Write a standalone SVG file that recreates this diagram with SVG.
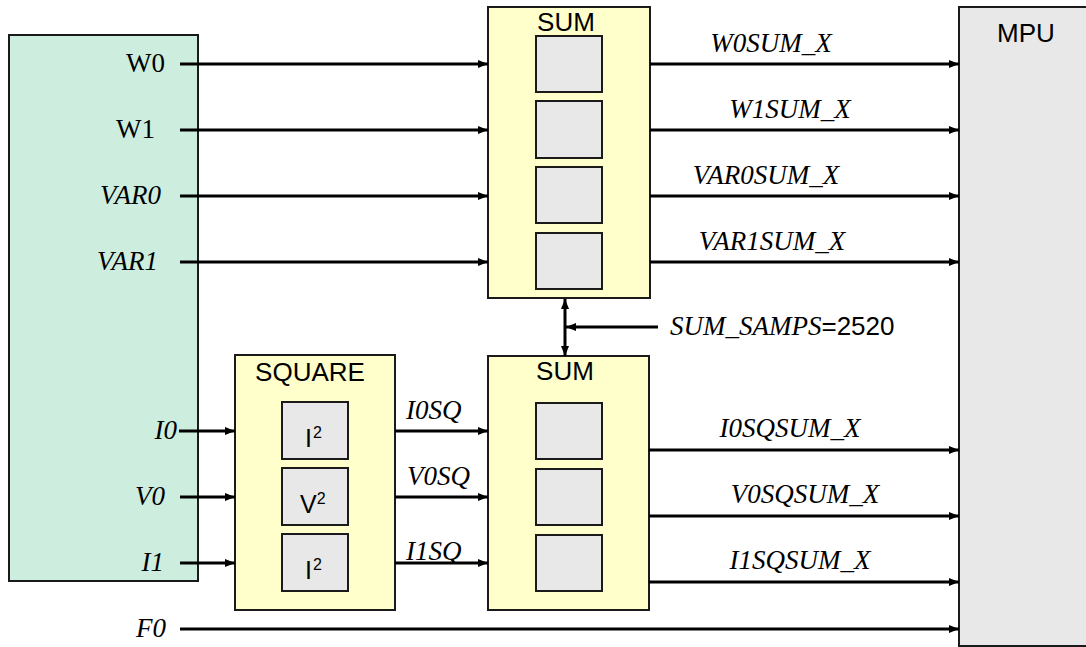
<svg xmlns="http://www.w3.org/2000/svg" width="1086" height="647" viewBox="0 0 1086 647">
<style>
.box{stroke:#1a1a1a;stroke-width:2}
.green{fill:#cdeede}
.yellow{fill:#ffffcc}
.gray{fill:#e8e8e8}
.ln{stroke:#000;stroke-width:3;fill:none}
.arr{marker-end:url(#ah)}
.ser{font-family:"Liberation Sans",Arial,sans-serif;font-size:27px}
.ser{font-family:"Liberation Serif",serif}
.it{font-style:italic}
.sans{font-family:"Liberation Sans",Arial,sans-serif;font-size:26px}
.sq{font-family:"Liberation Sans",Arial,sans-serif;font-size:25px}
.sup{font-size:16px}
</style>
<defs>
<marker id="ah" markerWidth="10" markerHeight="8" refX="10" refY="4" orient="auto" markerUnits="userSpaceOnUse">
<path d="M0,0 L10,4 L0,8 Z" fill="#000"/>
</marker>
<marker id="ahs" markerWidth="10" markerHeight="8" refX="10" refY="4" orient="auto-start-reverse" markerUnits="userSpaceOnUse">
<path d="M0,0 L10,4 L0,8 Z" fill="#000"/>
</marker>
</defs>
<rect width="1086" height="647" fill="#fff"/>

<g id="source">
<rect class="box green" x="9" y="35" width="189" height="546"/>
<text class="ser" x="165" y="72" text-anchor="end">W0</text>
<text class="ser" x="155" y="138" text-anchor="end">W1</text>
<text class="ser it" x="161" y="204" text-anchor="end">VAR0</text>
<text class="ser it" x="158" y="270" text-anchor="end">VAR1</text>
<text class="ser it" x="177" y="439" text-anchor="end">I0</text>
<text class="ser it" x="165" y="505" text-anchor="end">V0</text>
<text class="ser it" x="164" y="571" text-anchor="end">I1</text>
</g>
<text class="ser it" x="166" y="637" text-anchor="end">F0</text>

<g id="sum_top">
<rect class="box yellow" x="488" y="7" width="162" height="291"/>
<text class="sans" x="566" y="31" text-anchor="middle">SUM</text>
<rect class="box gray" x="536" y="36" width="66" height="56"/>
<rect class="box gray" x="536" y="101" width="66" height="57"/>
<rect class="box gray" x="536" y="167" width="66" height="56"/>
<rect class="box gray" x="536" y="233" width="66" height="56"/>
</g>

<g id="square">
<rect class="box yellow" x="235" y="355" width="160" height="255"/>
<text class="sans" x="310" y="381" text-anchor="middle">SQUARE</text>
<rect class="box gray" x="282" y="402" width="66" height="57"/>
<rect class="box gray" x="282" y="468" width="66" height="57"/>
<rect class="box gray" x="282" y="534" width="66" height="57"/>
<text class="sq" x="305" y="447">I<tspan class="sup" dx="1" dy="-9">2</tspan></text>
<text class="sq" x="300" y="513">V<tspan class="sup" dy="-9">2</tspan></text>
<text class="sq" x="305" y="579">I<tspan class="sup" dx="1" dy="-9">2</tspan></text>
</g>

<g id="sum_bottom">
<rect class="box yellow" x="488" y="356" width="161" height="254"/>
<text class="sans" x="565" y="380" text-anchor="middle">SUM</text>
<rect class="box gray" x="536" y="403" width="66" height="56"/>
<rect class="box gray" x="536" y="469" width="66" height="56"/>
<rect class="box gray" x="536" y="535" width="66" height="56"/>
</g>

<g id="mpu">
<rect class="box gray" x="959" y="7" width="140" height="639"/>
<text class="sans" x="1026" y="42" text-anchor="middle">MPU</text>
</g>

<g id="connectors">
<line class="ln arr" x1="180" y1="64" x2="488" y2="64"/>
<line class="ln arr" x1="180" y1="130" x2="488" y2="130"/>
<line class="ln arr" x1="180" y1="196" x2="488" y2="196"/>
<line class="ln arr" x1="180" y1="262" x2="488" y2="262"/>
<line class="ln arr" x1="650" y1="64" x2="959" y2="64"/>
<line class="ln arr" x1="650" y1="130" x2="959" y2="130"/>
<line class="ln arr" x1="650" y1="196" x2="959" y2="196"/>
<line class="ln arr" x1="650" y1="262" x2="959" y2="262"/>
<line class="ln arr" x1="179" y1="431" x2="235" y2="431"/>
<line class="ln arr" x1="180" y1="497" x2="235" y2="497"/>
<line class="ln arr" x1="180" y1="563" x2="235" y2="563"/>
<line class="ln arr" x1="395" y1="431" x2="488" y2="431"/>
<line class="ln arr" x1="395" y1="497" x2="488" y2="497"/>
<line class="ln arr" x1="395" y1="563" x2="488" y2="563"/>
<line class="ln arr" x1="649" y1="450" x2="959" y2="450"/>
<line class="ln arr" x1="649" y1="516" x2="959" y2="516"/>
<line class="ln arr" x1="649" y1="582" x2="959" y2="582"/>
<line class="ln arr" x1="180" y1="629" x2="959" y2="629"/>
<line class="ln" x1="565" y1="299" x2="565" y2="356" marker-start="url(#ahs)" marker-end="url(#ahs)"/>
<line class="ln arr" x1="658" y1="327" x2="566" y2="327"/>
<text class="ser it" x="771" y="52" text-anchor="middle">W0SUM_X</text>
<text class="ser it" x="790" y="118" text-anchor="middle">W1SUM_X</text>
<text class="ser it" x="766" y="184" text-anchor="middle">VAR0SUM_X</text>
<text class="ser it" x="772" y="250" text-anchor="middle">VAR1SUM_X</text>
<text class="ser it" x="406" y="419">I0SQ</text>
<text class="ser it" x="407" y="485">V0SQ</text>
<text class="ser it" x="406" y="560">I1SQ</text>
<text class="ser it" x="790" y="437" text-anchor="middle">I0SQSUM_X</text>
<text class="ser it" x="805" y="503" text-anchor="middle">V0SQSUM_X</text>
<text class="ser it" x="800" y="569" text-anchor="middle">I1SQSUM_X</text>
<text x="670" y="335"><tspan class="ser it">SUM_SAMPS</tspan><tspan class="sans">=2520</tspan></text>
</g>
</svg>
